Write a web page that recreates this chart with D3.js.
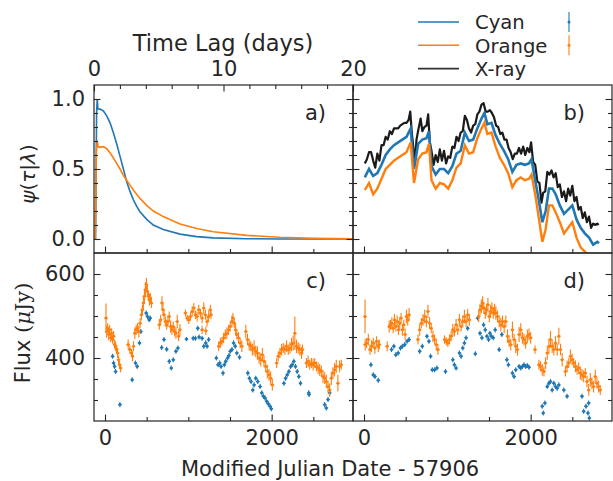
<!DOCTYPE html>
<html lang="en">
<head>
<meta charset="UTF-8" />
<title>Transfer functions and light curves</title>
<script src="https://cdn.jsdelivr.net/npm/d3@7"></script>
<style>
  body { margin: 0; background: #fff; }
  text { font-family: "DejaVu Sans", sans-serif; fill: #262626; }
</style>
</head>
<body>
<script>
// panel a: response vs lag (days)
var lagCyan = [[0,0],[0.12,0],[0.2,0.9],[0.25,1.0],[0.3,0.93],[0.5,0.926],[0.72,0.915],[0.98,0.88],[1.24,0.83],[1.49,0.76],[1.75,0.68],[2.01,0.59],[2.27,0.5],[2.52,0.41],[2.78,0.34],[3.04,0.28],[3.29,0.235],[3.55,0.195],[4.07,0.14],[4.58,0.1],[5.35,0.068],[6.64,0.035],[7.93,0.017],[9.21,0.008],[11.79,0.002],[14.36,0],[20,0]];
var lagOrange = [[0,0],[0.1,0],[0.18,0.62],[0.26,0.70],[0.32,0.66],[0.45,0.655],[0.72,0.66],[0.98,0.645],[1.24,0.615],[1.49,0.58],[1.75,0.54],[2.01,0.5],[2.27,0.455],[2.52,0.42],[2.78,0.385],[3.04,0.35],[3.29,0.32],[3.55,0.29],[4.07,0.24],[4.58,0.2],[5.35,0.16],[6.64,0.107],[7.93,0.075],[9.21,0.052],[11.79,0.026],[14.36,0.012],[16.94,0.005],[20,0.001]];

// panel b: scaled light curves [mjd, value]
var lcXray = [[10,.54],[35,.57],[60,.62],[85,.62],[110,.56],[135,.51],[160,.61],[185,.56],[210,.67],[235,.67],[260,.73],[285,.71],[310,.77],[335,.75],[360,.79],[385,.79],[410,.79],[435,.81],[460,.82],[485,.83],[510,.83],[535,.85],[555,.91],[575,.75],[595,.64],[610,.53],[630,.71],[655,.79],[680,.86],[700,.77],[725,.80],[750,.81],[770,.89],[790,.69],[810,.63],[835,.53],[860,.60],[885,.55],[910,.64],[935,.56],[960,.63],[985,.54],[1010,.59],[1035,.58],[1060,.66],[1085,.65],[1110,.73],[1135,.70],[1160,.76],[1185,.77],[1210,.88],[1235,.85],[1260,.79],[1285,.76],[1310,.81],[1335,.82],[1360,.89],[1385,.91],[1410,.96],[1435,.97],[1460,.91],[1485,.91],[1510,.92],[1535,.90],[1560,.87],[1585,.81],[1610,.80],[1635,.75],[1660,.76],[1685,.71],[1710,.71],[1735,.65],[1760,.62],[1785,.57],[1810,.61],[1835,.61],[1860,.65],[1885,.61],[1910,.66],[1935,.60],[1960,.65],[1985,.62],[2005,.69],[2030,.55],[2055,.53],[2080,.41],[2105,.40],[2130,.26],[2150,.33],[2175,.34],[2200,.48],[2225,.46],[2250,.49],[2275,.44],[2300,.47],[2325,.37],[2350,.39],[2375,.30],[2400,.34],[2425,.27],[2450,.36],[2475,.31],[2500,.38],[2525,.27],[2550,.30],[2575,.21],[2600,.23],[2625,.15],[2650,.19],[2675,.12],[2700,.16],[2725,.08],[2750,.11],[2775,.10],[2800,.11],[2815,.10]];
var lcCyan = [[10,.44],[60,.50],[110,.45],[160,.47],[210,.53],[260,.60],[310,.64],[360,.67],[410,.69],[460,.71],[510,.73],[560,.79],[600,.50],[650,.68],[700,.71],[750,.72],[780,.77],[810,.52],[860,.46],[910,.50],[960,.50],[1010,.47],[1060,.52],[1110,.61],[1160,.63],[1210,.76],[1260,.70],[1310,.71],[1360,.79],[1410,.86],[1445,.90],[1480,.82],[1530,.83],[1580,.74],[1630,.68],[1680,.63],[1730,.57],[1780,.48],[1830,.53],[1880,.54],[1930,.53],[1980,.54],[2010,.57],[2060,.40],[2100,.27],[2140,.12],[2180,.20],[2220,.36],[2260,.36],[2300,.32],[2350,.24],[2400,.18],[2450,.21],[2500,.24],[2550,.14],[2600,.08],[2650,.04],[2700,.01],[2750,-.04],[2800,-.02],[2820,-.03]];
var lcOrange = [[10,.35],[60,.40],[110,.32],[160,.36],[210,.43],[260,.50],[310,.53],[360,.56],[410,.58],[460,.60],[510,.62],[560,.69],[600,.40],[650,.57],[700,.61],[750,.62],[780,.68],[810,.42],[860,.36],[910,.40],[960,.39],[1010,.36],[1060,.42],[1110,.51],[1160,.54],[1210,.67],[1260,.61],[1310,.62],[1360,.72],[1410,.79],[1445,.83],[1480,.75],[1530,.76],[1580,.66],[1630,.58],[1680,.53],[1730,.47],[1780,.37],[1830,.42],[1880,.44],[1930,.42],[1980,.43],[2010,.46],[2060,.30],[2100,.14],[2140,-.02],[2180,.07],[2220,.24],[2260,.24],[2300,.19],[2350,.12],[2400,.04],[2450,.08],[2500,.12],[2550,.01],[2600,-.06],[2650,-.09],[2700,-.12],[2750,-.15],[2800,-.12]];

// panels c and d: [mjd, flux, err]
var cOrange = [[12,495,35],[20,463,15],[32,471,12],[44,456,14],[56,467,12],[68,448,10],[80,459,12],[91,444,10],[103,452,12],[115,432,10],[127,428,12],[139,420,10],[151,412,12],[163,396,10],[175,384,10],[187,376,10],
  [278,432,12],[298,420,10],[318,412,10],[330,404,12],[342,428,12],[358,459,14],[374,467,12],[390,471,12],[406,463,14],[421,483,12],[437,503,14],[449,515,12],[461,531,14],[473,547,16],[485,563,18],[497,575,16],[509,559,14],[521,547,12],[533,539,14],[545,543,12],[557,531,12],
  [652,479,12],[668,491,12],[684,531,16],[696,515,14],[708,503,12],[724,487,12],[740,479,12],[755,487,14],[771,499,12],[787,475,14],[803,467,12],[819,475,12],[835,463,12],[851,459,14],[867,487,16],[883,452,12],[899,467,14],
  [966,507,8],[986,495,8],[1006,491,10],[1026,499,10],[1046,511,12],[1066,519,12],[1085,503,10],[1105,499,12],[1125,515,12],[1145,507,10],[1165,495,12],[1185,519,14],[1205,503,12],[1225,487,12],[1244,499,14],[1264,515,12],[1272,503,10],[1165,467,10],[1210,465,10],
  [1364,428,12],[1384,436,12],[1404,440,10],[1423,448,12],[1443,456,12],[1463,459,14],[1483,467,12],[1503,475,12],[1523,487,14],[1535,495,12],[1551,483,12],[1567,467,14],[1582,456,12],[1602,448,14],[1622,436,12],[1642,428,14],
  [1690,463,16],[1710,444,14],[1730,432,14],[1749,428,12],[1769,420,14],[1789,424,18],[1809,416,14],[1829,412,16],[1849,400,14],[1869,396,16],[1889,408,16],[1908,392,14],[1928,380,14],[1948,368,16],[1968,360,14],[1988,352,16],[2008,336,14],
  [2060,388,12],[2079,404,12],[2099,412,12],[2119,420,14],[2139,424,12],[2159,420,12],[2179,428,14],[2199,420,12],[2219,424,14],[2238,432,16],[2258,436,18],[2278,459,40],[2298,428,16],[2318,424,14],[2338,420,14],[2358,412,14],[2370,420,12],
  [2417,388,12],[2437,392,14],[2457,384,12],[2477,388,12],[2497,384,14],[2517,388,12],[2537,380,12],[2557,376,14],[2576,372,14],[2596,368,14],[2616,356,16],[2636,352,14],[2656,344,16],[2676,332,14],[2696,324,16],[2716,352,16],[2735,364,14],[2755,372,16],[2775,380,16],[2795,340,20],[2815,380,14],[2835,384,12]];
var cCyan = [[91,404,6],[103,388,6],[115,380,6],[127,368,6],[179,289,6],[326,348,6],[366,388,6],[386,380,6],[414,436,6],[430,463,6],[494,507,6],[510,499,6],[530,491,6],[542,495,6],[680,425,6],[708,444,6],[740,421,6],[771,392,6],[795,376,6],[819,396,6],[851,416,6],[875,424,6],[978,445,5],[1058,447,6],[1085,447,6],[1113,471,6],[1129,450,6],[1165,447,6],[1185,428,6],[1209,436,6],[1225,428,6],[1244,444,6],
  [1336,400,6],[1356,384,6],[1376,388,6],[1392,380,6],[1416,364,6],[1432,384,6],[1448,392,6],[1471,400,6],[1487,406,6],[1503,416,6],[1523,420,6],[1543,436,6],[1563,428,6],[1582,412,6],[1614,402,6],
  [1714,364,6],[1733,352,6],[1753,344,6],[1773,324,6],[1789,336,6],[1809,352,6],[1833,344,6],[1861,332,6],[1881,317,6],[1901,309,6],[1920,305,6],[1940,297,6],[1960,291,6],[1980,285,6],[1996,279,6],
  [2147,340,6],[2167,352,6],[2187,360,6],[2207,368,6],[2227,380,6],[2246,384,6],[2266,392,6],[2286,380,6],[2306,368,6],[2326,356,6],[2346,340,6],[2445,317,6],[2449,313,6],[2636,289,6],[2656,281,6],[2676,301,6],[2696,317,6]];
var dOrange = [[12,499,40],[14,432,14],[32,436,12],[52,444,14],[72,420,12],[91,428,14],[111,436,12],[131,424,14],[151,440,12],[171,428,14],[183,432,12],
  [278,428,12],[302,475,14],[318,479,12],[334,483,14],[350,471,12],[366,491,14],[382,475,12],[398,487,14],[414,467,12],[429,483,14],[445,495,12],[461,467,14],[477,479,12],[493,456,14],[509,499,16],[525,491,14],[541,503,16],
  [648,444,12],[668,467,14],[688,483,12],[708,491,14],[728,499,16],[748,487,14],[767,511,16],[787,483,14],[807,471,12],[827,452,14],[847,444,12],[867,432,14],[887,420,12],
  [966,444,10],[986,440,10],[1006,436,10],[1026,444,12],[1046,452,12],[1066,467,14],[1085,463,12],[1105,479,14],[1125,467,12],[1145,491,14],[1165,475,12],[1185,487,14],[1205,499,16],[1225,487,14],[1244,503,14],[1264,491,14],
  [1376,499,14],[1392,515,14],[1408,523,16],[1423,531,16],[1439,519,14],[1455,507,14],[1471,515,14],[1487,527,16],[1503,499,14],[1519,511,16],[1535,519,14],[1551,507,14],[1567,515,14],[1582,507,16],[1602,499,14],[1622,487,14],[1642,479,16],[1662,487,14],[1682,475,16],[1702,487,14],
  [1722,452,16],[1741,440,14],[1761,432,14],[1781,467,20],[1801,444,14],[1821,428,16],[1841,420,14],[1861,456,18],[1881,467,16],[1901,448,14],[1920,444,14],[1940,436,14],[1960,452,16],[1980,456,14],[2000,448,14],[2052,420,10],
  [2099,384,12],[2119,380,12],[2139,372,14],[2159,368,12],[2179,388,14],[2199,412,16],[2219,428,18],[2238,444,20],[2258,428,16],[2278,420,14],[2298,436,16],[2318,420,14],[2338,452,20],[2358,420,14],[2378,396,16],
  [2417,368,12],[2437,380,14],[2457,388,12],[2477,404,16],[2497,396,14],[2517,388,12],[2537,380,14],[2557,372,12],[2576,376,14],[2596,364,16],[2616,360,14],[2636,356,14],[2656,364,12],[2676,344,14],[2696,324,14],[2716,348,16],[2735,340,14],[2755,332,14],[2775,356,16],[2795,340,14],[2815,332,14],[2835,324,12]];
var dCyan = [[83,384,6],[111,360,6],[131,356,6],[171,347,6],
  [330,420,6],[358,428,6],[382,408,6],[410,412,6],[437,424,6],[461,428,6],[489,432,6],[517,440,6],[541,444,6],
  [668,416,6],[700,428,6],[755,452,6],[779,440,6],[799,404,6],[819,372,6],[847,372,6],[875,376,6],
  [978,368,6],[1066,396,6],[1085,384,6],[1105,376,6],[1145,412,6],[1165,404,6],[1185,424,6],[1205,436,6],[1225,448,6],[1244,471,6],[1336,410,6],
  [1364,495,6],[1392,459,6],[1415,448,6],[1435,479,6],[1455,467,6],[1475,452,6],[1495,444,6],[1511,459,6],[1527,452,6],[1551,448,6],[1574,467,6],[1622,420,6],[1654,456,6],
  [1714,396,6],[1733,384,6],[1781,364,6],[1801,356,6],[1821,372,6],[1861,380,6],[1881,376,6],[1901,380,6],[1920,384,6],[1940,380,6],[1960,382,6],[1980,378,6],
  [2139,285,6],[2151,269,6],[2171,293,6],[2199,332,6],[2219,340,6],[2238,344,6],[2258,324,6],[2278,340,6],[2298,332,6],[2318,328,6],[2338,336,6],[2398,324,6],[2437,309,6],
  [2616,309,6],[2636,273,6],[2664,285,6],[2688,269,6],[2704,257,6],[2696,293,6]];

// ticks
var lagMajor = [0, 10, 20], lagMinor = [2, 4, 6, 8, 12, 14, 16, 18];
var mjdMajor = [0, 2000], mjdMinor = [500, 1000, 1500, 2500];
var psiMajor = [0, 0.5, 1.0], psiMinor = [0.1, 0.2, 0.3, 0.4, 0.6, 0.7, 0.8, 0.9];
var fluxMajor = [400, 600], fluxMinor = [300, 350, 450, 500, 550];

var blue = "#1f77b4", orange = "#ff7f0e", ink = "#262626";
var L = 94, M = 353, R = 612, T = 85, H = 253, B = 421;

var svg = d3.select("body").append("svg").attr("width", 613).attr("height", 481);

var xLag = d3.scaleLinear().domain([0, 20]).range([L, M]);
var xLeft = d3.scaleLinear().domain([-132, 2976]).range([L, M]);
var xRight = d3.scaleLinear().domain([-132, 2976]).range([M, R]);
var yPsi = d3.scaleLinear().domain([-0.1, 1.1]).range([H, T]);
var yFlux = d3.scaleLinear().domain([250, 650]).range([B, H]);

function clip(id, x0, x1, y0, y1) {
  svg.append("clipPath").attr("id", id).append("rect")
     .attr("x", x0).attr("y", y0).attr("width", x1 - x0).attr("height", y1 - y0);
  return svg.append("g").attr("clip-path", "url(#" + id + ")");
}

function axis(gen, tx, ty, vals, len, labels) {
  var g = svg.append("g").attr("transform", "translate(" + tx + "," + ty + ")")
    .call(gen.tickValues(vals).tickSize(-len).tickPadding(9).tickFormat(labels ? d3.format(labels) : ""));
  g.select(".domain").remove();
  g.attr("font-size", 21).attr("font-family", "DejaVu Sans").attr("color", ink);
  g.selectAll("line").attr("stroke-width", 1.1);
  return g;
}

function ticks(xs, ys, x0, x1, y0, y1, xMaj, xMin, yMaj, yMin, xLab, yLab) {
  axis(d3.axisBottom(xs), 0, y1, xMin, 4);
  axis(d3.axisBottom(xs), 0, y1, xMaj, 6.5, xLab);
  axis(d3.axisLeft(ys), x0, 0, yMin, 4);
  axis(d3.axisLeft(ys), x0, 0, yMaj, 6.5, yLab);
  axis(d3.axisRight(ys), x1, 0, yMin, 4);
  axis(d3.axisRight(ys), x1, 0, yMaj, 6.5);
}

// panel a
var ga = clip("ca", L, M, T, H);
var lagLine = d3.line().x(function(d) { return xLag(d[0]); }).y(function(d) { return yPsi(d[1]); });
ga.append("path").datum(lagCyan).attr("d", lagLine).attr("fill", "none").attr("stroke", blue).attr("stroke-width", 1.6);
ga.append("path").datum(lagOrange).attr("d", lagLine).attr("fill", "none").attr("stroke", orange).attr("stroke-width", 1.6);

// panel b
var gb = clip("cb", M, R, T, H);
var lcLine = d3.line().x(function(d) { return xRight(d[0]); }).y(function(d) { return yPsi(d[1]); });
gb.append("path").datum(lcXray).attr("d", lcLine).attr("fill", "none").attr("stroke", "#1a1a1a").attr("stroke-width", 2.2).attr("stroke-linejoin", "round");
gb.append("path").datum(lcCyan).attr("d", lcLine).attr("fill", "none").attr("stroke", blue).attr("stroke-width", 2.6);
gb.append("path").datum(lcOrange).attr("d", lcLine).attr("fill", "none").attr("stroke", orange).attr("stroke-width", 2.4);

// panels c and d
function errs(g, xs, data, col) {
  var p = g.selectAll(null).data(data).enter().append("g").attr("stroke", col).attr("fill", col);
  p.append("line")
   .attr("x1", function(d) { return xs(d[0]); }).attr("x2", function(d) { return xs(d[0]); })
   .attr("y1", function(d) { return yFlux(d[1] - d[2]); }).attr("y2", function(d) { return yFlux(d[1] + d[2]); })
   .attr("stroke-width", 1.1);
  p.append("line")
   .attr("x1", function(d) { return xs(d[0]) - 1.8; }).attr("x2", function(d) { return xs(d[0]) + 1.8; })
   .attr("y1", function(d) { return yFlux(d[1]); }).attr("y2", function(d) { return yFlux(d[1]); })
   .attr("stroke-width", 1.1);
  p.append("circle").attr("cx", function(d) { return xs(d[0]); }).attr("cy", function(d) { return yFlux(d[1]); })
   .attr("r", 1.5).attr("stroke", "none");
}
var gc = clip("cc", L, M, H, B);
errs(gc, xLeft, cCyan, blue);
errs(gc, xLeft, cOrange, orange);
var gd = clip("cd", M, R, H, B);
errs(gd, xRight, dCyan, blue);
errs(gd, xRight, dOrange, orange);

// ticks and frames
ticks(xLeft, yPsi, L, M, T, H, mjdMajor, mjdMinor, psiMajor, psiMinor, null, ".1f");
ticks(xRight, yPsi, M, R, T, H, mjdMajor, mjdMinor, psiMajor, psiMinor, null, null);
ticks(xLeft, yFlux, L, M, H, B, mjdMajor, mjdMinor, fluxMajor, fluxMinor, "d", "d");
ticks(xRight, yFlux, M, R, H, B, mjdMajor, mjdMinor, fluxMajor, fluxMinor, "d", null);
axis(d3.axisTop(xLag), 0, T, lagMinor, 4);
axis(d3.axisTop(xLag), 0, T, lagMajor, 6.5, "d").selectAll("text").attr("dy", "0");

[[L, M, T, H], [M, R, T, H], [L, M, H, B], [M, R, H, B]].forEach(function(b) {
  svg.append("rect").attr("x", b[0]).attr("y", b[2]).attr("width", b[1] - b[0]).attr("height", b[3] - b[2])
     .attr("fill", "none").attr("stroke", ink).attr("stroke-width", 1.2);
});

// panel letters
[["a)", M - 27, 120], ["b)", R - 27, 120], ["c)", M - 27, 288], ["d)", R - 27, 288]].forEach(function(t) {
  svg.append("text").text(t[0]).attr("x", t[1]).attr("y", t[2]).attr("text-anchor", "end").attr("font-size", 21);
});

// axis labels
svg.append("text").text("Time Lag (days)").attr("x", 223).attr("y", 51).attr("text-anchor", "middle").attr("font-size", 22.5);
svg.append("text").text("Modified Julian Date - 57906").attr("x", 330).attr("y", 476).attr("text-anchor", "middle").attr("font-size", 21);

var psiLab = svg.append("text").attr("transform", "translate(35,174) rotate(-90)").attr("text-anchor", "middle")
  .attr("font-size", 20).attr("font-family", "DejaVu Serif");
psiLab.append("tspan").text("ψ").attr("font-style", "italic");
psiLab.append("tspan").text("(");
psiLab.append("tspan").text("τ").attr("font-style", "italic");
psiLab.append("tspan").text("|");
psiLab.append("tspan").text("λ").attr("font-style", "italic");
psiLab.append("tspan").text(")");

var fluxLab = svg.append("text").attr("transform", "translate(30,333) rotate(-90)").attr("text-anchor", "middle").attr("font-size", 21);
fluxLab.append("tspan").text("Flux ");
fluxLab.append("tspan").text("(").attr("font-family", "DejaVu Serif");
fluxLab.append("tspan").text("μ").attr("font-family", "DejaVu Serif").attr("font-style", "italic");
fluxLab.append("tspan").text("Jy)").attr("font-family", "DejaVu Serif");

// legend
var legend = [["Cyan", blue, true], ["Orange", orange, true], ["X-ray", "#333", false]];
legend.forEach(function(l, i) {
  var y = 22 + i * 23.3;
  svg.append("line").attr("x1", 418).attr("x2", 459).attr("y1", y).attr("y2", y).attr("stroke", l[1]).attr("stroke-width", 1.6);
  svg.append("text").text(l[0]).attr("x", 475).attr("y", y + 7.3).attr("font-size", 19.6);
  if (l[2]) {
    svg.append("line").attr("x1", 569).attr("x2", 569).attr("y1", y - 10).attr("y2", y + 10).attr("stroke", l[1]).attr("stroke-width", 1.1);
    svg.append("circle").attr("cx", 569).attr("cy", y).attr("r", 1.5).attr("fill", l[1]);
  }
});
</script>
</body>
</html>
